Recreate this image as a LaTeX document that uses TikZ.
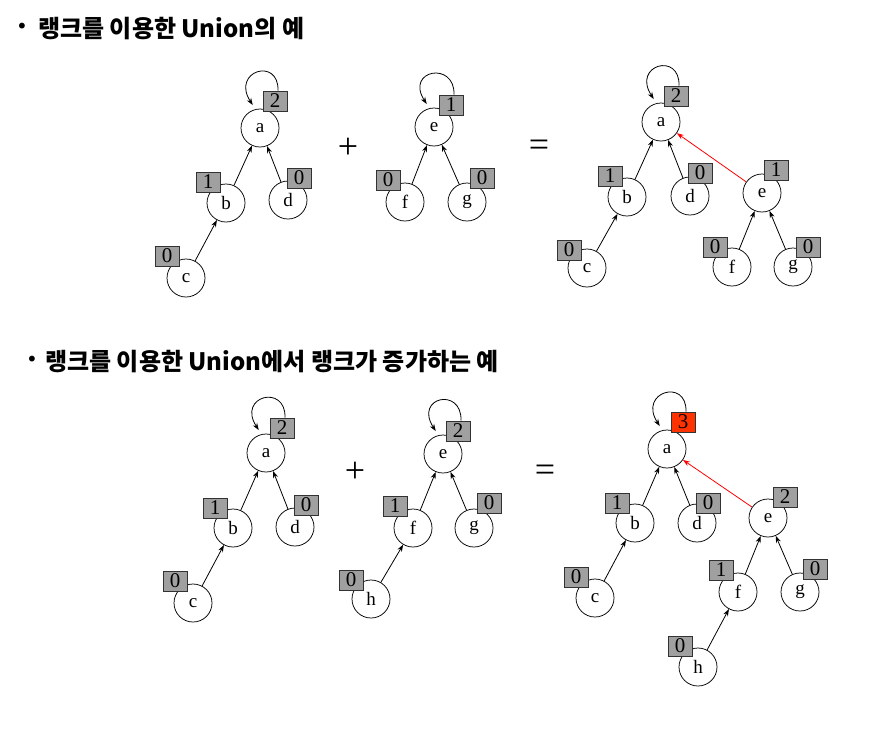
\documentclass[tikz,border=0pt]{standalone}
\usepackage{fontspec}
\setmainfont{Liberation Serif}
\newfontfamily\kfont{Noto Sans CJK KR}
\newfontfamily\bulfont{DejaVu Sans}
\usetikzlibrary{arrows.meta,calc}
\definecolor{rankgray}{RGB}{160,160,160}
\definecolor{rankred}{RGB}{255,51,0}
\definecolor{boxline}{RGB}{50,50,50}
\tikzset{
  vtx/.style={circle,draw=black,line width=0.75pt,minimum size=38pt,inner sep=0pt,fill=white,font=\fontsize{19}{19}\selectfont},
  rk/.style={draw=boxline,line width=0.9pt,fill=rankgray,minimum width=24pt,minimum height=20pt,inner sep=0pt,font=\fontsize{21}{21}\selectfont},
  rkred/.style={rk,fill=rankred},
  edge/.style={draw=black,line width=0.8pt,-{Stealth[length=7pt,width=5pt]}},
  redge/.style={edge,draw=red},
  ttl/.style={anchor=base west,inner sep=0pt,font=\kfont\bfseries\fontsize{24}{24}\selectfont},
  bul/.style={inner sep=0pt,font=\bulfont\fontsize{20}{20}\selectfont},
  op/.style={inner sep=0pt,font=\fontsize{36}{36}\selectfont},
}
\newcommand\rkloop[2]{\draw[edge] ([xshift=3pt]#1.north) .. controls +(1,-34) and +(-22,-34) .. ([yshift=5pt]#2.112);}
\begin{document}
\begin{tikzpicture}[x=1pt,y=-1pt]
\fill[white] (0,0) rectangle (882,740);
\useasboundingbox (0,0) rectangle (882,740);

% titles
\node[bul] (bt1) at (22,28) {•};
\node[ttl] (t1) at (38,37) {랭크를 이용한 Union의 예};
\node[bul] (bt2) at (32,361) {•};
\node[ttl] (t2) at (45,370) {랭크를 이용한 Union에서 랭크가 증가하는 예};

% operators
\node[op] (plus1) at (348,148) {+};
\node[op] (eq1) at (539,148) {=};
\node[op] (plus2) at (355,472) {+};
\node[op] (eq2) at (545,473) {=};

% ---------- Tree 1 ----------
\node[vtx] (a1) at (260,128) {a};
\node[vtx] (b1) at (226,203) {b};
\node[vtx] (d1) at (288,200) {d};
\node[vtx] (c1) at (186,278) {c};
\draw[edge] (b1) -- (a1);
\draw[edge] (d1) -- (a1);
\draw[edge] (c1) -- (b1);
\node[rk] (ra1) at (275,101) {2};
\node[rk] (rb1) at (208,182) {1};
\node[rk] (rd1) at (299,178) {0};
\node[rk] (rc1) at (167,256) {0};
\rkloop{ra1}{a1}

% ---------- Tree 2 ----------
\node[vtx] (e2) at (434,127) {e};
\node[vtx] (f2) at (405,202) {f};
\node[vtx] (g2) at (467,202) {g};
\draw[edge] (f2) -- (e2);
\draw[edge] (g2) -- (e2);
\node[rk] (re2) at (451,105) {1};
\node[rk] (rf2) at (388,180) {0};
\node[rk] (rg2) at (482,178) {0};
\rkloop{re2}{e2}

% ---------- Tree 3 ----------
\node[vtx] (a3) at (661,122) {a};
\node[vtx] (b3) at (627,197) {b};
\node[vtx] (d3) at (690,196) {d};
\node[vtx] (c3) at (587,268) {c};
\node[vtx] (e3) at (762,193) {e};
\node[vtx] (f3) at (732,267) {f};
\node[vtx] (g3) at (793,267) {g};
\draw[edge] (b3) -- (a3);
\draw[edge] (d3) -- (a3);
\draw[edge] (c3) -- (b3);
\draw[redge] (e3) -- (a3);
\draw[edge] (f3) -- (e3);
\draw[edge] (g3) -- (e3);
\node[rk] (ra3) at (676,96) {2};
\node[rk] (rb3) at (610,176) {1};
\node[rk] (rd3) at (700,173) {0};
\node[rk] (rc3) at (569,250) {0};
\node[rk] (re3) at (776,170) {1};
\node[rk] (rf3) at (715,247) {0};
\node[rk] (rg3) at (808,247) {0};
\rkloop{ra3}{a3}

% ---------- Tree 4 ----------
\node[vtx] (a4) at (266,453) {a};
\node[vtx] (b4) at (233,528) {b};
\node[vtx] (d4) at (295,527) {d};
\node[vtx] (c4) at (193,603) {c};
\draw[edge] (b4) -- (a4);
\draw[edge] (d4) -- (a4);
\draw[edge] (c4) -- (b4);
\node[rk] (ra4) at (282,428) {2};
\node[rk] (rb4) at (215,508) {1};
\node[rk] (rd4) at (306,505) {0};
\node[rk] (rc4) at (175,581) {0};
\rkloop{ra4}{a4}

% ---------- Tree 5 ----------
\node[vtx] (e5) at (443,454) {e};
\node[vtx] (f5) at (413,528) {f};
\node[vtx] (g5) at (474,528) {g};
\node[vtx] (h5) at (371,599) {h};
\draw[edge] (f5) -- (e5);
\draw[edge] (g5) -- (e5);
\draw[edge] (h5) -- (f5);
\node[rk] (re5) at (458,431) {2};
\node[rk] (rf5) at (395,506) {1};
\node[rk] (rg5) at (489,503) {0};
\node[rk] (rh5) at (351,580) {0};
\rkloop{re5}{e5}

% ---------- Tree 6 ----------
\node[vtx] (a6) at (667,449) {a};
\node[vtx] (b6) at (635,523) {b};
\node[vtx] (d6) at (697,523) {d};
\node[vtx] (c6) at (595,598) {c};
\node[vtx] (e6) at (768,518) {e};
\node[vtx] (f6) at (738,592) {f};
\node[vtx] (g6) at (800,592) {g};
\node[vtx] (h6) at (698,667) {h};
\draw[edge] (b6) -- (a6);
\draw[edge] (d6) -- (a6);
\draw[edge] (c6) -- (b6);
\draw[redge] (e6) -- (a6);
\draw[edge] (f6) -- (e6);
\draw[edge] (g6) -- (e6);
\draw[edge] (h6) -- (f6);
\node[rkred] (ra6) at (683,422) {3};
\node[rk] (rb6) at (617,503) {1};
\node[rk] (rd6) at (708,503) {0};
\node[rk] (rc6) at (576,577) {0};
\node[rk] (re6) at (785,497) {2};
\node[rk] (rf6) at (721,570) {1};
\node[rk] (rg6) at (815,569) {0};
\node[rk] (rh6) at (680,646) {0};
\rkloop{ra6}{a6}
\end{tikzpicture}
\end{document}
